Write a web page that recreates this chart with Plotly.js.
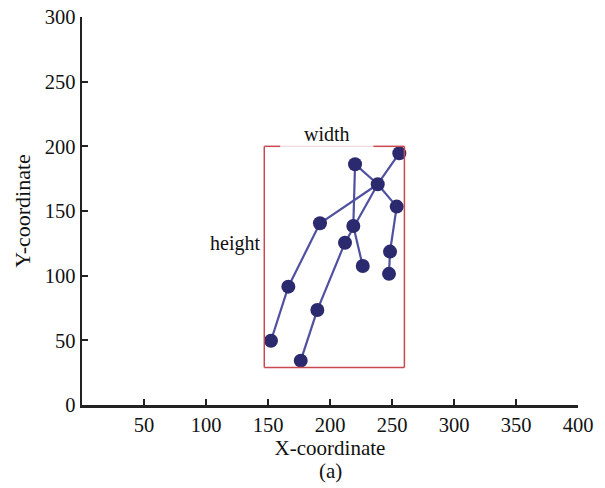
<!DOCTYPE html>
<html><head><meta charset="utf-8">
<script src="https://cdn.plot.ly/plotly-3.0.1.min.js"></script>
<style>html,body{margin:0;padding:0;background:#fff}#chart{width:605px;height:488px}</style>
</head><body><div id="chart"></div>
<script>
// Joint coordinates
const jointNames = ["head","neck","shoulderA","elbowA","wristA","shoulderB","elbowB","wristB","hipA","kneeA","ankleA","hipB","kneeB","ankleB"];
const jointX = [255.9, 238.5, 220.2, 218.8, 226.4, 253.8, 248.4, 247.6, 191.9, 166.4, 152.4, 212.1, 189.8, 176.4];
const jointY = [194.7, 170.7, 186.2, 138.4, 107.5, 153.4, 118.6, 101.4, 140.5, 91.5, 49.7, 125.5, 73.5, 34.3];
const edges = [[0,1],[1,2],[2,3],[3,4],[1,5],[5,6],[6,7],[1,8],[8,9],[9,10],[1,11],[11,12],[12,13]];
// Bounding box
const boxX = [147, 260];
const boxY = [29, 200];
const xTicks = [50,100,150,200,250,300,350,400];
const yTicks = [0,50,100,150,200,250,300];

const lx = [], ly = [];
edges.forEach(e => { lx.push(jointX[e[0]], jointX[e[1]], null); ly.push(jointY[e[0]], jointY[e[1]], null); });

const fam = "Liberation Serif, Times New Roman, serif";
const font = {family: fam, color: "#111", size: 20.5};
const boxColor = "#c8494f";
const traces = [
  {x: lx, y: ly, mode: "lines", line: {color: "#4f50a0", width: 2.2}, hoverinfo: "skip", showlegend: false},
  {x: jointX, y: jointY, text: jointNames, mode: "markers", marker: {color: "#2c2a6e", size: 14}, showlegend: false}
];
const gapA = 160, gapB = 235;
const shapes = [
  {type: "line", x0: boxX[0], x1: boxX[0], y0: boxY[0], y1: boxY[1], line: {color: boxColor, width: 1.5}},
  {type: "line", x0: boxX[1], x1: boxX[1], y0: boxY[0], y1: boxY[1], line: {color: boxColor, width: 1.5}},
  {type: "line", x0: boxX[0], x1: boxX[1], y0: boxY[0], y1: boxY[0], line: {color: boxColor, width: 1.5}},
  {type: "line", x0: boxX[0], x1: gapA, y0: boxY[1], y1: boxY[1], line: {color: boxColor, width: 1.5}},
  {type: "line", x0: gapA, x1: gapB, y0: boxY[1], y1: boxY[1], line: {color: "#f0dcdc", width: 1.2}},
  {type: "line", x0: gapB, x1: boxX[1], y0: boxY[1], y1: boxY[1], line: {color: boxColor, width: 1.5}}
];
const layout = {
  width: 605, height: 488,
  margin: {l: 82, r: 27, t: 17, b: 83},
  paper_bgcolor: "#fff", plot_bgcolor: "#fff",
  font: font,
  xaxis: {range: [0, 400], tickvals: xTicks, ticks: "inside", ticklen: 6, tickwidth: 2, tickcolor: "#222",
          showline: true, linecolor: "#222", linewidth: 2.5, showgrid: false, zeroline: false,
          tickfont: font, title: {text: "X-coordinate", font: {family: fam, size: 21, color: "#111"}, standoff: 3}},
  yaxis: {range: [0, 300], tickvals: yTicks, ticks: "inside", ticklen: 6, tickwidth: 2, tickcolor: "#222",
          showline: true, linecolor: "#222", linewidth: 2.5, showgrid: false, zeroline: false,
          tickfont: font, title: {text: "Y-coordinate", font: {family: fam, size: 22, color: "#111"}, standoff: 8}},
  shapes: shapes,
  annotations: [
    {x: (gapA + gapB) / 2, y: boxY[1], xref: "x", yref: "y", text: "width", showarrow: false, yanchor: "bottom", yshift: -1, font: {family: fam, size: 20, color: "#111"}},
    {x: boxX[0], y: 125, xref: "x", yref: "y", text: "height", showarrow: false, xanchor: "right", xshift: -2, font: {family: fam, size: 20, color: "#111"}},
    {x: 0.5, y: 0, xref: "paper", yref: "paper", yshift: -52, text: "(a)", showarrow: false, yanchor: "top", font: {family: fam, size: 21, color: "#111"}}
  ]
};
Plotly.newPlot("chart", traces, layout, {displayModeBar: false, staticPlot: true});
</script></body></html>
